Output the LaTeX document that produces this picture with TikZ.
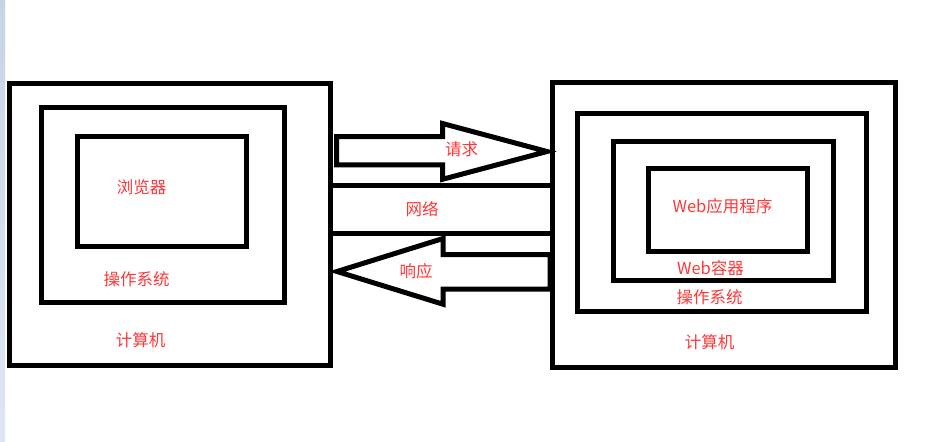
\documentclass[tikz,border=0pt]{standalone}
\usepackage{fontspec}
\newfontfamily\cjk{Noto Sans CJK SC}
\definecolor{textred}{RGB}{255,55,55}
\definecolor{stripA}{RGB}{200,211,230}
\definecolor{stripB}{RGB}{222,230,242}
\begin{document}
\begin{tikzpicture}[x=1pt,y=-1pt,
  box/.style={draw=black,line width=5pt,rectangle,inner sep=0pt,fill=none},
  lbl/.style={text=textred,font=\cjk\fontsize{16.5}{19}\selectfont,inner sep=0pt},
  arrowshape/.style={draw=black,line width=5pt,line join=miter}]
\useasboundingbox (0,0) rectangle (951,442);
\fill[white] (0,0) rectangle (951,442);
\shade[top color=stripA,bottom color=stripB] (0,0) rectangle (5,442);
% left computer
\node[box,minimum width=321pt,minimum height=281.5pt] (Lout) at (170,224.25) {};
\node[box,minimum width=242.5pt,minimum height=195.4pt] (Los) at (162.75,205) {};
\node[box,minimum width=168.5pt,minimum height=110pt] (Lbr) at (161.75,191.7) {};
\node[lbl] (tbr) at (141.5,187) {浏览器};
\node[lbl] (tlos) at (136.5,279) {操作系统};
\node[lbl] (tlpc) at (140.5,340) {计算机};
% right computer
\node[box,minimum width=342.5pt,minimum height=284.5pt] (Rout) at (723.75,224.75) {};
\node[box,minimum width=289pt,minimum height=197.5pt] (Ros) at (722,212.25) {};
\node[box,minimum width=220.3pt,minimum height=138.7pt] (Rcont) at (723.65,210.85) {};
\node[box,minimum width=159pt,minimum height=83.3pt] (Rapp) at (728,210.15) {};
\node[lbl] (tapp) at (722.5,206) {Web应用程序};
\node[lbl] (tcont) at (710.5,268) {Web容器};
\node[lbl] (tros) at (709.7,297.5) {操作系统};
\node[lbl] (trpc) at (709.7,342) {计算机};
% network band
\draw[line width=5pt] (Lout.east |- 0,185.5) -- (Rout.west |- 0,185.5);
\draw[line width=5pt] (Lout.east |- 0,233) -- (Rout.west |- 0,233);
\node[lbl] (tnet) at (422,208.7) {网络};
% request arrow
\coordinate (reqtip) at (547,151.5);
\draw[arrowshape] (336.5,136.5) -- (442.5,136.5) -- (442.5,123.5) -- (reqtip)
  -- (442.5,179.3) -- (442.5,164.8) -- (336.5,164.8) -- cycle;
\node[lbl] (treq) at (461.7,149.5) {请求};
% response arrow
\coordinate (restip) at (337,271.5);
\draw[arrowshape] (550,254.5) -- (443,254.5) -- (443,238.5) -- (restip)
  -- (443,304.2) -- (443,289) -- (550,289) -- cycle;
\node[lbl] (tres) at (416,271) {响应};
\end{tikzpicture}
\end{document}
